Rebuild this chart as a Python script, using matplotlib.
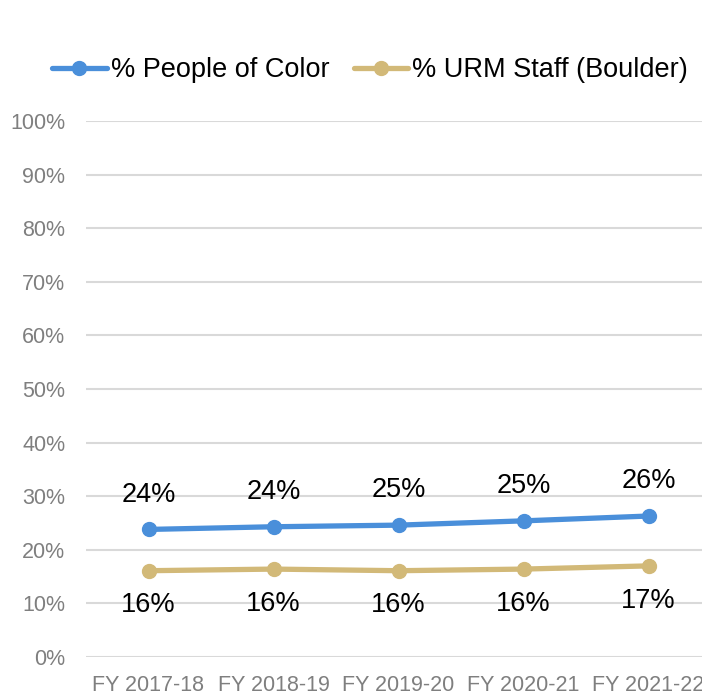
import matplotlib
matplotlib.use("Agg")
import matplotlib.pyplot as plt

plt.rcParams['font.family'] = ['Liberation Sans', 'DejaVu Sans']

# data
years = ['FY 2017-18', 'FY 2018-19', 'FY 2019-20', 'FY 2020-21', 'FY 2021-22']
poc = [23.8, 24.3, 24.6, 25.4, 26.3]
urm = [16.1, 16.4, 16.1, 16.4, 17.0]
poc_labels = ['24%', '24%', '25%', '25%', '26%']
urm_labels = ['16%', '16%', '16%', '16%', '17%']

blue = '#4A8FDA'
tan = '#D2B978'

fig = plt.figure(figsize=(7.02, 6.95), dpi=100)
ax = fig.add_axes([86 / 702, 38 / 695, 625 / 702, 536 / 695])

x = range(len(years))
ax.plot(x, poc, color=blue, lw=3.8, marker='o', ms=10, label='% People of Color', solid_capstyle='round')
ax.plot(x, urm, color=tan, lw=3.8, marker='o', ms=10, label='% URM Staff (Boulder)', solid_capstyle='round')

for i in x:
    ax.annotate(poc_labels[i], (i, poc[i]), xytext=(0, 25), textcoords='offset points',
                ha='center', va='center', fontsize=19.5, color='black')
    ax.annotate(urm_labels[i], (i, urm[i]), xytext=(0, -25), textcoords='offset points',
                ha='center', va='center', fontsize=19.5, color='black')

ax.set_xlim(-0.5, 4.5)
ax.set_ylim(0, 100)
ax.set_yticks(range(0, 101, 10))
ax.set_yticklabels([f'{v}%' for v in range(0, 101, 10)])
ax.set_xticks(list(x))
ax.set_xticklabels(years)
ax.tick_params(length=0, labelsize=15.5, colors='#7f7f7f', pad=13)
ax.tick_params(axis='y', pad=15)
ax.grid(axis='y', color='#d9d9d9', lw=1.5)
ax.set_axisbelow(True)
for s in ax.spines.values():
    s.set_visible(False)

fig.legend(loc='center', bbox_to_anchor=(370 / 702, 1 - 70 / 695), ncol=2, frameon=False,
           fontsize=19.5, handlelength=2.0, handletextpad=0.15, columnspacing=0.9)

fig.savefig('out.png', dpi=100)
